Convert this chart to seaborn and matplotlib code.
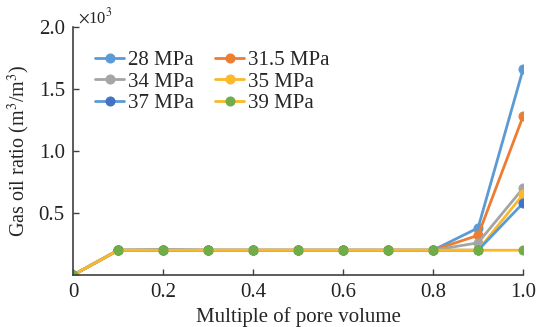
import pandas as pd
import seaborn as sns
import matplotlib.pyplot as plt

# datos (GOR en unidades de 10^3 m3/m3)
pv = [0, 0.1, 0.2, 0.3, 0.4, 0.5, 0.6, 0.7, 0.8, 0.9, 1.0]
gor_28 = [0, 0.20, 0.205, 0.20, 0.20, 0.20, 0.20, 0.20, 0.20, 0.38, 1.66]
gor_315 = [0, 0.20, 0.20, 0.20, 0.20, 0.20, 0.20, 0.20, 0.20, 0.32, 1.28]
gor_34 = [0, 0.20, 0.20, 0.20, 0.20, 0.20, 0.20, 0.20, 0.20, 0.26, 0.70]
gor_35 = [0, 0.20, 0.20, 0.20, 0.20, 0.20, 0.20, 0.20, 0.20, 0.20, 0.65]
gor_37 = [0, 0.20, 0.20, 0.20, 0.20, 0.20, 0.20, 0.20, 0.20, 0.20, 0.58]
gor_39 = [0, 0.20, 0.20, 0.20, 0.20, 0.20, 0.20, 0.20, 0.20, 0.20, 0.20]

labels = ['28 MPa', '31.5 MPa', '34 MPa', '35 MPa', '37 MPa', '39 MPa']
series = [gor_28, gor_315, gor_34, gor_35, gor_37, gor_39]
line_colors = ['#5B9BD5', '#ED7D31', '#A5A5A5', '#FBB829', '#5B9BD5', '#FBB829']
marker_colors = ['#5B9BD5', '#ED7D31', '#A5A5A5', '#FBB829', '#4472C4', '#70AD47']

sns.set_style("ticks")
plt.rcParams['font.family'] = ['Liberation Serif', 'DejaVu Serif']
plt.rcParams['mathtext.fontset'] = 'stix'

fig = plt.figure(figsize=(5.46, 3.27), dpi=100)
ax = fig.add_axes([0.134, 0.159, 0.824, 0.758])

for lab, vals, lc, mc in zip(labels, series, line_colors, marker_colors):
    df = pd.DataFrame({'pv': pv, 'gor': vals})
    sns.lineplot(data=df, x='pv', y='gor', ax=ax, color=lc, linewidth=2,
                 marker='o', markersize=6.5, markerfacecolor=mc,
                 markeredgecolor=mc, label=lab)

ax.set_xlim(0, 1.0)
ax.set_ylim(0, 2.0)
ax.set_xticks([0, 0.2, 0.4, 0.6, 0.8, 1.0])
ax.set_xticklabels(['0', '0.2', '0.4', '0.6', '0.8', '1.0'])
ax.set_yticks([0.5, 1.0, 1.5, 2.0])
ax.set_yticklabels(['0.5', '1.0', '1.5', '2.0'])
ax.tick_params(direction='in', length=4, width=1, colors='#404040',
               labelsize=15, labelcolor='#222222', pad=6)
for s in ['top', 'right']:
    ax.spines[s].set_visible(False)
for s in ['left', 'bottom']:
    ax.spines[s].set_color('#404040')
    ax.spines[s].set_linewidth(1.2)
ax.set_xlabel('Multiple of pore volume', fontsize=15)
ax.set_ylabel('Gas oil ratio (m$^3$/m$^3$)', fontsize=14.5)
ax.text(0.01, 1.0, r'$\times$10$^3$', transform=ax.transAxes, fontsize=12,
        ha='left', va='bottom', color='#222222')
ax.xaxis.set_label_coords(0.5, -0.128)
ax.yaxis.set_label_coords(-0.092, 0.5)

# leyenda por filas, como en la figura original
h, l = ax.get_legend_handles_labels()
order = [0, 2, 4, 1, 3, 5]
ax.legend([h[i] for i in order], [l[i] for i in order],
          loc='upper left', bbox_to_anchor=(0.03, 0.94), ncol=2, frameon=False,
          fontsize=15, handlelength=1.4, handletextpad=0.2, columnspacing=1.0,
          labelspacing=0.1, borderaxespad=0)

fig.savefig('out.png', dpi=100)
